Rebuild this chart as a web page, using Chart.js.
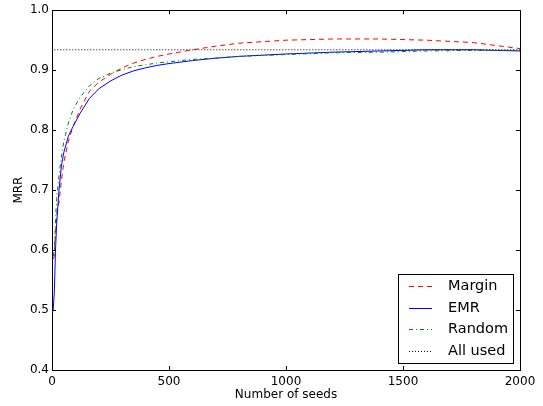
<!DOCTYPE html>
<html>
<head>
<meta charset="utf-8">
<script src="https://cdn.jsdelivr.net/npm/chart.js@4/dist/chart.umd.min.js"></script>
<style>
html,body{margin:0;padding:0;background:#fff;}
canvas{display:block;}
</style>
</head>
<body>
<canvas id="c" width="543" height="406"></canvas>
<script>
const seeds = [5,10,15,20,30,40,50,70,90,120,160,200,250,300,350,400,450,500,600,700,800,1000,1200,1400,1600,1800,1900,2000];
const margin = [0.585,0.59,0.63,0.66,0.68,0.715,0.745,0.782,0.806,0.835,0.865,0.880,0.893,0.904,0.912,0.918,0.923,0.927,0.934,0.940,0.945,0.950,0.952,0.952,0.950,0.946,0.941,0.936];
const emr    = [0.50,0.53,0.60,0.645,0.70,0.74,0.762,0.79,0.806,0.828,0.853,0.869,0.882,0.892,0.899,0.904,0.908,0.911,0.916,0.920,0.923,0.927,0.930,0.932,0.934,0.934,0.933,0.932];
const random = [0.59,0.60,0.65,0.686,0.725,0.755,0.78,0.812,0.834,0.855,0.874,0.886,0.895,0.901,0.906,0.909,0.912,0.914,0.918,0.920,0.923,0.926,0.929,0.930,0.932,0.933,0.933,0.933];
const allUsedSeeds = [10, 2000];
const allUsed = [0.934, 0.934];
const seriesNames = ['Margin','EMR','Random','All used'];
const xTicks = [0,500,1000,1500,2000];
const yTicks = [0.4,0.5,0.6,0.7,0.8,0.9,1.0];

const pts = (xs, ys) => xs.map((x,i)=>({x:x,y:ys[i]}));
const FONT = 'DejaVu Sans';

const frameTicks = {
  id:'frameTicks',
  afterDatasetsDraw(chart){
    const {ctx, chartArea:a, scales} = chart;
    ctx.save();
    ctx.strokeStyle = '#000';
    ctx.lineWidth = 1;
    ctx.beginPath();
    ctx.rect(Math.round(a.left)+0.5, Math.round(a.top)+0.5, Math.round(a.right-a.left), Math.round(a.bottom-a.top));
    ctx.stroke();
    const L = 4;
    ctx.beginPath();
    scales.x.ticks.forEach(t=>{
      const px = Math.round(scales.x.getPixelForValue(t.value))+0.5;
      ctx.moveTo(px,a.bottom); ctx.lineTo(px,a.bottom-L);
      ctx.moveTo(px,a.top); ctx.lineTo(px,a.top+L);
    });
    scales.y.ticks.forEach(t=>{
      const py = Math.round(scales.y.getPixelForValue(t.value))+0.5;
      ctx.moveTo(a.left,py); ctx.lineTo(a.left+L,py);
      ctx.moveTo(a.right,py); ctx.lineTo(a.right-L,py);
    });
    ctx.stroke();
    ctx.restore();
  }
};

const boxLegend = {
  id:'boxLegend',
  afterDraw(chart){
    const ctx = chart.ctx;
    const bx=398, by=274, bw=115, bh=89;
    ctx.save();
    ctx.fillStyle='#fff';
    ctx.fillRect(bx,by,bw,bh);
    ctx.strokeStyle='#000';
    ctx.lineWidth=1;
    ctx.strokeRect(bx+0.5,by+0.5,bw,bh);
    ctx.font = '14.5px "'+FONT+'"';
    ctx.textBaseline='middle';
    ctx.textAlign='left';
    chart.data.datasets.forEach((ds,i)=>{
      const y = Math.round(by + 12 + i*21.7)+0.5;
      ctx.strokeStyle = ds.borderColor;
      ctx.lineWidth = ds.borderWidth;
      ctx.setLineDash(ds.borderDash||[]);
      ctx.beginPath(); ctx.moveTo(409,y); ctx.lineTo(432,y); ctx.stroke();
      ctx.setLineDash([]);
      ctx.fillStyle='#000';
      ctx.fillText(ds.label, 448, y);
    });
    ctx.restore();
  }
};

new Chart(document.getElementById('c'), {
  type:'line',
  data:{
    datasets:[
      {label:seriesNames[0], data:pts(seeds,margin), borderColor:'#ff0000', borderWidth:1, borderDash:[5,4], order:4},
      {label:seriesNames[1], data:pts(seeds,emr), borderColor:'#0000ff', borderWidth:1, order:3},
      {label:seriesNames[2], data:pts(seeds,random), borderColor:'#008000', borderWidth:1, borderDash:[4,3,1,3], order:2},
      {label:seriesNames[3], data:pts(allUsedSeeds,allUsed), borderColor:'#000000', borderWidth:1, borderDash:[1,2], order:1}
    ]
  },
  options:{
    responsive:false,
    animation:false,
    events:[],
    elements:{point:{radius:0}, line:{tension:0, fill:false}},
    layout:{padding:{top:7,right:23,left:0,bottom:0}},
    plugins:{legend:{display:false}, tooltip:{enabled:false}},
    scales:{
      x:{
        type:'linear', min:0, max:2000,
        afterBuildTicks(s){ s.ticks = xTicks.map(v=>({value:v})); },
        afterFit(s){ s.height = 36; },
        grid:{drawOnChartArea:false, drawTicks:false},
        border:{display:true, color:'#000', width:1},
        ticks:{padding:5, color:'#000', font:{family:FONT,size:12}, maxRotation:0, autoSkip:false, callback:v=>String(v)},
        title:{display:true, text:'Number of seeds', color:'#000', font:{family:FONT,size:12}, padding:{top:0,bottom:4}}
      },
      y:{
        type:'linear', min:0.4, max:1.0,
        afterBuildTicks(s){ s.ticks = yTicks.map(v=>({value:v})); },
        afterFit(s){ s.width = 52; },
        grid:{drawOnChartArea:false, drawTicks:false},
        border:{display:true, color:'#000', width:1},
        ticks:{padding:3, color:'#000', font:{family:FONT,size:12}, autoSkip:false, callback:v=>Number(v).toFixed(1)},
        title:{display:true, text:'MRR', color:'#000', font:{family:FONT,size:12}, padding:{top:12,bottom:0}}
      }
    }
  },
  plugins:[frameTicks, boxLegend]
});
</script>
</body>
</html>
